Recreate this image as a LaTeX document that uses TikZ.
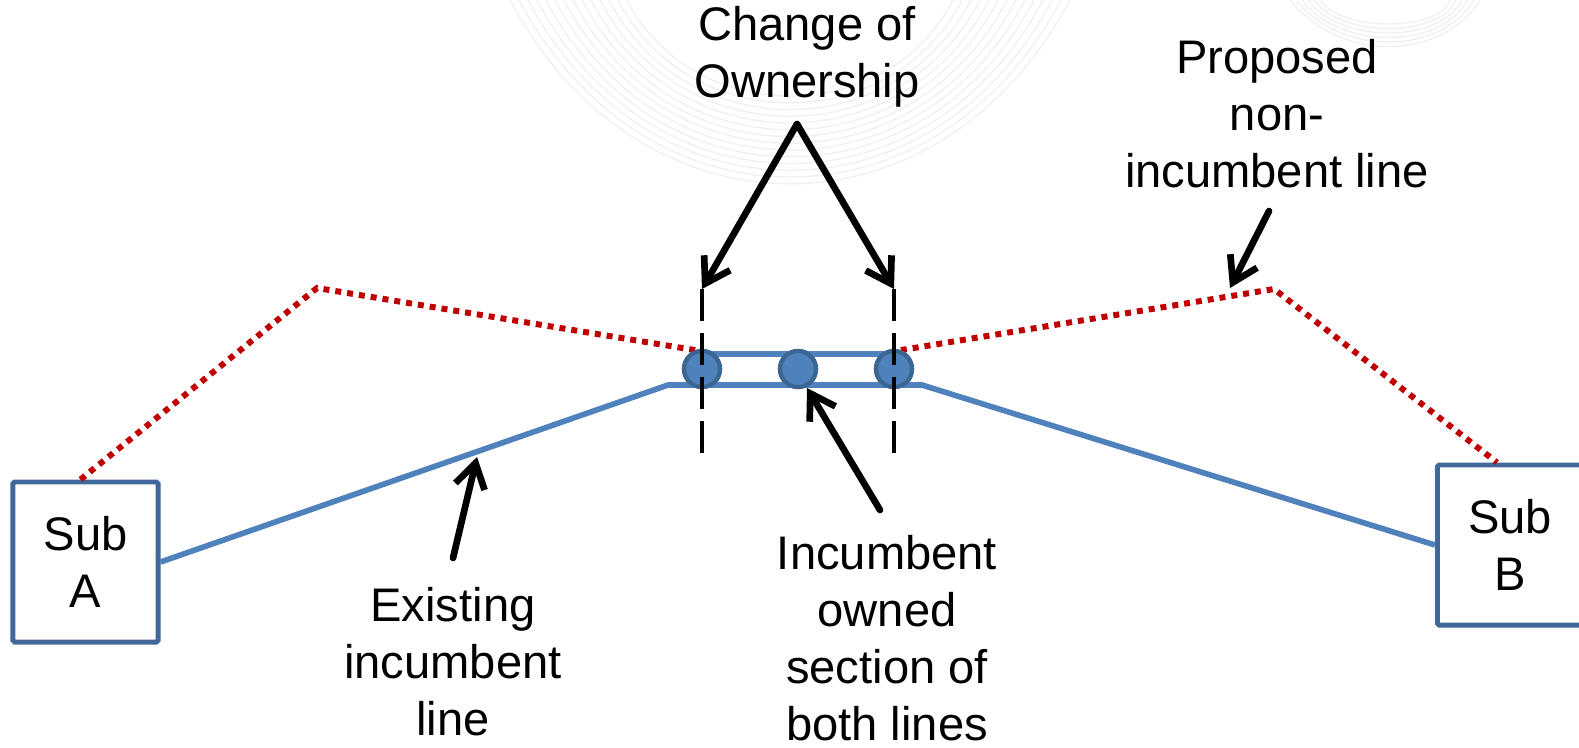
\documentclass[tikz,border=0pt]{standalone}
\usepackage{fontspec}
\setmainfont{Liberation Sans}
\usetikzlibrary{arrows.meta,positioning,calc}
\definecolor{lineblue}{HTML}{4F81BD}
\definecolor{boxblue}{HTML}{41689A}
\definecolor{ringblue}{HTML}{3B6592}
\definecolor{propred}{HTML}{C00000}

\begin{document}
\begin{tikzpicture}[x=0.01cm,y=-0.01cm,
    txt/.style={align=center,font=\fontsize{13.4}{16.2}\selectfont,inner sep=0pt},
    sub/.style={draw=boxblue,line width=1.4pt,minimum width=1.45cm,minimum height=1.6cm,
        align=center,font=\fontsize{13.4}{16.2}\selectfont,rounded corners=0.5pt},
    joint/.style={circle,fill=lineblue,draw=ringblue,line width=1.2pt,minimum size=0.36cm,inner sep=0pt},
    existing/.style={lineblue,line width=1.6pt},
    proposed/.style={propred,line width=1.7pt,dash pattern=on 1.7pt off 1.7pt},
    pointer/.style={line width=1.9pt,line cap=round,-{Straight Barb[length=0.24cm,width=0.3cm]}},
    cut/.style={line width=1.1pt,dash pattern=on 0.32cm off 0.12cm},
    swirl/.style={gray!12,line width=0.4pt}]
    \useasboundingbox (0,0) rectangle (1579,747);
    % 背景
    \foreach \k in {0,...,13}
        \draw[swirl] ({510+9*\k},0) .. controls ({640+4*\k},{245-9*\k}) and ({940-4*\k},{245-9*\k}) .. ({1070-9*\k},0);
    \foreach \k in {0,...,5}
        \draw[swirl] ({1290+6*\k},0) .. controls (1340,{62-6*\k}) and (1440,{62-6*\k}) .. ({1480-6*\k},0);
    % 变电站
    \node[sub] (subA) at (85.5,562) {Sub\\A};
    \node[sub] (subB) at (1510,545) {Sub\\B};
    % 连接点
    \node[joint] (c1) at (702,369) {};
    \node[joint] (c2) at (798,369) {};
    \node[joint] (c3) at (894,369) {};
    \coordinate (bendL) at (668,385);
    \coordinate (bendR) at (922,385);
    \coordinate (peakL) at (317,288);
    \coordinate (peakR) at (1274,289);
    % 现有线路
    \draw[existing] (subA.east) -- (bendL) -- (bendR) -- (subB.west);
    \draw[existing] ($(c1)+(0,-15)$) -- ($(c3)+(0,-15)$);
    % 拟建线路
    \draw[proposed] ($(subA.north)+(-5,0)$) -- (peakL) -- (c1.110);
    \draw[proposed] (c3.70) -- (peakR) -- ($(subB.north)+(-13,0)$);
    % 重画连接点
    \node[joint] at (c1) {};
    \node[joint] at (c2) {};
    \node[joint] at (c3) {};
    % 分界
    \coordinate (cutL) at ($(c1)+(0,-80)$);
    \coordinate (cutR) at ($(c3)+(0,-80)$);
    \draw[cut] (cutL) -- ($(c1)+(0,84)$);
    \draw[cut] (cutR) -- ($(c3)+(0,84)$);
    % 文字
    \node[txt] (owner) at (807,57) {Change of\\Ownership};
    \node[txt] (propose) at (1277,114) {Proposed\\non-\\incumbent line};
    \node[txt] (exist) at (453,662) {Existing\\incumbent\\line};
    \node[txt] (owned) at (887,638) {Incumbent\\owned\\section of\\both lines};
    % 箭头
    \coordinate (apex) at (797,124);
    \draw[pointer] (apex) -- (cutL);
    \draw[pointer] (apex) -- (cutR);
    \draw[pointer] (453,558) -- (477,457);
    \draw[pointer] (880,510) -- ($(c2)+(9,19)$);
    \draw[pointer] (1269,211) -- (1230,288);
\end{tikzpicture}
\end{document}
